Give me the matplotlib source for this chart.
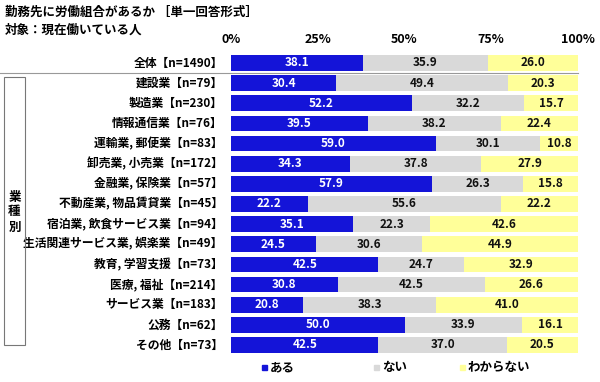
import matplotlib
matplotlib.use("Agg")
import matplotlib.pyplot as plt
from matplotlib.patches import Rectangle
from matplotlib.lines import Line2D

plt.rcParams['font.family'] = ['Noto Sans CJK JP', 'DejaVu Sans']

categories = ["全体", "建設業", "製造業", "情報通信業", "運輸業, 郵便業", "卸売業, 小売業",
              "金融業, 保険業", "不動産業, 物品賃貸業", "宿泊業, 飲食サービス業",
              "生活関連サービス業, 娯楽業", "教育, 学習支援", "医療, 福祉", "サービス業",
              "公務", "その他"]
n_values = [1490, 79, 230, 76, 83, 172, 57, 45, 94, 49, 73, 214, 183, 62, 73]
aru = [38.1, 30.4, 52.2, 39.5, 59.0, 34.3, 57.9, 22.2, 35.1, 24.5, 42.5, 30.8, 20.8, 50.0, 42.5]
nai = [35.9, 49.4, 32.2, 38.2, 30.1, 37.8, 26.3, 55.6, 22.3, 30.6, 24.7, 42.5, 38.3, 33.9, 37.0]
wakaranai = [26.0, 20.3, 15.7, 22.4, 10.8, 27.9, 15.8, 22.2, 42.6, 44.9, 32.9, 26.6, 41.0, 16.1, 20.5]
series_names = ["ある", "ない", "わからない"]
colors = ["#1414D8", "#D9D9D9", "#FFFF99"]
text_colors = ["white", "#111111", "#111111"]
xticks = [0, 25, 50, 75, 100]

W, H = 600, 382
fig = plt.figure(figsize=(W / 100, H / 100), dpi=100)
row_top, row_bot = 63, 345
step = (row_bot - row_top) / (len(categories) - 1)
top_px = row_top - step / 2
bot_px = row_bot + step / 2
ax = fig.add_axes([231 / W, 1 - bot_px / H, (578 - 231) / W, (bot_px - top_px) / H])

ypos = list(range(len(categories)))
left = [0.0] * len(categories)
for vals, c, tc in zip([aru, nai, wakaranai], colors, text_colors):
    ax.barh(ypos, vals, left=left, height=0.78, color=c, edgecolor="none")
    for y, l, v in zip(ypos, left, vals):
        ax.text(l + v / 2, y, f"{v:.1f}", ha="center", va="center",
                color=tc, fontsize=8.5, fontweight="bold")
    left = [a + b for a, b in zip(left, vals)]

ax.set_xlim(0, 100)
ax.set_ylim(len(categories) - 0.5, -0.5)
ax.xaxis.tick_top()
ax.set_xticks(xticks)
ax.set_xticklabels([f"{t}%" for t in xticks], fontsize=9, fontweight="bold")
ax.tick_params(axis="x", length=0, pad=5)
ax.set_yticks([])
for s in ax.spines.values():
    s.set_visible(False)

# category labels
for y, cat, n in zip(ypos, categories, n_values):
    ax.text(-2.4, y, f"{cat}【n={n}】", ha="right", va="center",
            fontsize=8.5, fontweight="bold", transform=ax.transData, clip_on=False)

# separator under 全体
fig.add_artist(Line2D([0, 578 / W], [1 - 73 / H, 1 - 73 / H], color="#999999", lw=0.8))
# bracket box for 業種別
fig.add_artist(Rectangle((4 / W, 1 - 345 / H), 21 / W, (345 - 77) / H,
                         fill=False, edgecolor="#777777", lw=0.8))
fig.text(14.5 / W, 1 - 212 / H, "業\n種\n別", ha="center", va="center",
         fontsize=9, fontweight="bold", linespacing=1.2)

# titles
fig.text(5 / W, 1 - 12 / H, "勤務先に労働組合があるか ［単一回答形式］", ha="left", va="center",
         fontsize=9, fontweight="bold")
fig.text(5 / W, 1 - 30 / H, "対象：現在働いている人", ha="left", va="center",
         fontsize=9, fontweight="bold")

# legend
leg_x = [262, 374, 460]
for x, name, c in zip(leg_x, series_names, colors):
    fig.add_artist(Rectangle((x / W, 1 - 370 / H), 5 / W, 5 / H, color=c))
    fig.text((x + 8) / W, 1 - 368 / H, name, ha="left", va="center",
             fontsize=9, fontweight="bold")

fig.savefig("out.png", dpi=100)
